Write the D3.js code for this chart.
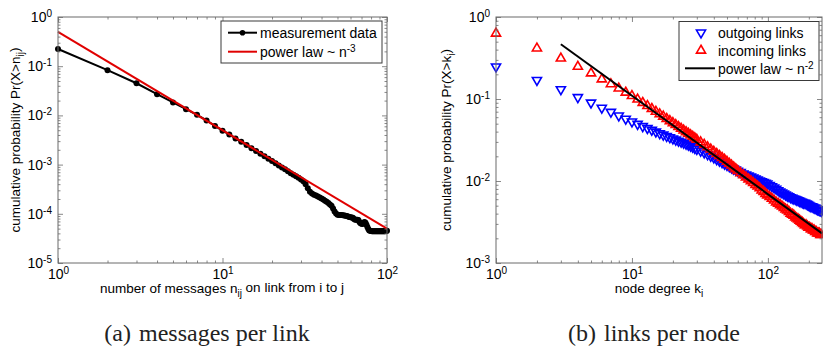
<!DOCTYPE html>
<html>
<head>
<meta charset="utf-8">
<script src="https://cdn.jsdelivr.net/npm/d3@7"></script>
<style>
  body { margin: 0; background: #fff; }
  svg { display: block; }
</style>
</head>
<body>
<svg id="chart" width="823" height="349"></svg>
<script>
// ---------- (a) messages per link ----------
// cumulative probability Pr(X > n_ij) for n = 1..100
const msgN = d3.range(1, 101);
const msgP = [
  0.224, 0.083, 0.045, 0.027, 0.0183, 0.0134, 0.0103, 0.0079, 0.0061, 0.0049,
  0.0041, 0.0034, 0.0029, 0.0025, 0.00215, 0.0019, 0.00166, 0.00147, 0.00131, 0.00118,
  0.00106, 0.00096, 0.00087, 0.00080, 0.00073, 0.00067, 0.00062, 0.00058, 0.00054, 0.00050,
  0.00046, 0.00040, 0.00033, 0.00028, 0.00026, 0.000245, 0.000235, 0.000225, 0.000215, 0.000205,
  0.000195, 0.000185, 0.000175, 0.000165, 0.000155, 0.000145, 0.000128, 0.000112, 0.000101, 0.000096,
  0.000095, 0.000095, 0.000094, 0.000093, 0.000092, 0.000091, 0.000090, 0.000088, 0.000086, 0.000085,
  0.000084, 0.000083, 0.000078, 0.000076, 0.000076, 0.000076, 0.000075, 0.000068, 0.000064, 0.000063,
  0.000062, 0.000066, 0.000068, 0.000066, 0.000060, 0.000054, 0.000049, 0.000046, 0.000045, 0.0000445,
  0.000044, 0.000044, 0.000044, 0.000044, 0.000044, 0.000044, 0.000044, 0.000044, 0.000044, 0.000044,
  0.000044, 0.000044, 0.000044, 0.000044, 0.000044, 0.000044, 0.000044, 0.0000445, 0.0000445, 0.000045
];
// fitted power law, end points (n, Pr)
const msgLawN = [1, 100];
const msgLawP = [0.5, 0.00005];

// ---------- (b) links per node ----------
const degK = [
  1, 2, 3, 4, 5, 6, 7, 8, 9, 10, 11, 12, 13, 14, 15, 16, 17, 18, 19, 20,
  21, 22, 23, 24, 25, 26, 27, 28, 29, 30,
  32, 34, 36, 38, 40, 42, 44, 46, 48, 50, 52, 54, 56, 58, 60,
  63, 66, 69, 72, 75, 78, 81, 84, 87, 90, 93, 96, 99,
  103, 107, 111, 115, 119, 123, 127, 131, 135, 139, 143, 147, 151, 155, 159, 163, 167,
  171, 175, 179, 183, 187, 191, 195, 199, 203, 207, 211, 215, 219, 223, 227, 231, 235,
  239, 243, 247
];
const outgoingP = [
  0.248, 0.170, 0.131, 0.105, 0.090, 0.078, 0.0695, 0.0627, 0.0572, 0.0530,
  0.0495, 0.0465, 0.0440, 0.0419, 0.0399, 0.0381, 0.0366, 0.0352, 0.0340, 0.0329,
  0.0318, 0.0308, 0.0300, 0.0292, 0.0284, 0.0276, 0.0268, 0.0260, 0.0252, 0.0245,
  0.0233, 0.0222, 0.0211, 0.0202, 0.0193, 0.0184, 0.0176, 0.0169, 0.0162, 0.0156,
  0.0151, 0.0146, 0.0141, 0.0137, 0.0133,
  0.0128, 0.0123, 0.0119, 0.0116, 0.0113, 0.0110, 0.0107, 0.0104, 0.0101, 0.0099,
  0.0097, 0.0095, 0.0093,
  0.0089, 0.0086, 0.0083, 0.0080, 0.0077, 0.0074, 0.0072, 0.0070, 0.0068, 0.0066,
  0.0065, 0.0063, 0.0062, 0.0061, 0.0060, 0.0059, 0.0058, 0.0057, 0.0056, 0.0055,
  0.0054, 0.0054, 0.0053, 0.0052, 0.0051, 0.0050, 0.0049, 0.0049, 0.0048, 0.0047,
  0.0047, 0.0046, 0.0045, 0.0045, 0.0044, 0.0044, 0.0043
];
const incomingP = [
  0.63, 0.415, 0.313, 0.248, 0.206, 0.174, 0.152, 0.135, 0.120, 0.109,
  0.0990, 0.0900, 0.0825, 0.0760, 0.0703, 0.0655, 0.0612, 0.0574, 0.0540, 0.0510,
  0.0483, 0.0458, 0.0436, 0.0415, 0.0396, 0.0378, 0.0362, 0.0347, 0.0333, 0.0320,
  0.0297, 0.0277, 0.0259, 0.0243, 0.0228, 0.0215, 0.0203, 0.0192, 0.0182, 0.0172,
  0.0163, 0.0155, 0.0147, 0.0140, 0.0133,
  0.0125, 0.0118, 0.0111, 0.0105, 0.0100, 0.0095, 0.0090, 0.0086, 0.0082, 0.0077,
  0.0074, 0.0070, 0.0067,
  0.0064, 0.0061, 0.0058, 0.0055, 0.0053, 0.0051, 0.0049, 0.0047, 0.0045, 0.0044,
  0.0042, 0.0040, 0.0039, 0.0038, 0.0036, 0.0035, 0.0034, 0.0033, 0.0032, 0.0031,
  0.0030, 0.0029, 0.0029, 0.0028, 0.0027, 0.0027, 0.0026, 0.0026, 0.0025, 0.0025,
  0.0024, 0.0024, 0.0023, 0.0023, 0.0023, 0.0022, 0.0022
];
const degLawK = [3, 250];
const degLawP = [0.465, 0.0023];

// ---------- drawing ----------
const SANS = "'Liberation Sans', Arial, Helvetica, sans-serif";
const SERIF = "'Liberation Serif', 'Times New Roman', serif";
const FRAME = "#6a6a6a";
const TICK_FONT = "14px", SUP_FONT = "10px", TITLE_FONT = "13.5px", SUB_FONT = "10px";
const svg = d3.select("#chart");

function majorTicks(lo, hi) {
  const out = [];
  for (let e = Math.ceil(Math.log10(lo) - 1e-9); Math.pow(10, e) <= hi * 1.0001; e++) out.push(Math.pow(10, e));
  return out;
}
function minorTicks(lo, hi) {
  const out = [];
  for (let e = Math.floor(Math.log10(lo)); e <= Math.ceil(Math.log10(hi)); e++)
    for (let m = 2; m <= 9; m++) {
      const v = m * Math.pow(10, e);
      if (v > lo * 1.0001 && v < hi * 0.9999) out.push(v);
    }
  return out;
}
function powerLabel(sel) {
  sel.text(null);
  sel.append("tspan").text("10");
  sel.append("tspan").attr("dy", "-0.5em").attr("font-size", SUP_FONT)
    .text(d => String(Math.round(Math.log10(d))));
}

function drawFrame(g, x, y) {
  const [x0, x1] = x.range(), [y1, y0] = y.range();
  const xd = x.domain(), yd = y.domain();
  const minX = minorTicks(xd[0], xd[1]), minY = minorTicks(yd[0], yd[1]);
  const majX = majorTicks(xd[0], xd[1]), majY = majorTicks(yd[0], yd[1]);

  const sides = [
    ["bottom", 0, y1, true],
    ["top", 0, y0, false],
    ["left", x0, 0, true],
    ["right", x1, 0, false]
  ];
  const make = side => side === "bottom" ? d3.axisBottom(x) : side === "top" ? d3.axisTop(x)
                     : side === "left" ? d3.axisLeft(y) : d3.axisRight(y);
  sides.forEach(([side, tx, ty, labelled]) => {
    const horiz = side === "bottom" || side === "top";
    const gm = g.append("g").attr("transform", `translate(${tx},${ty})`)
      .call(make(side).tickValues(horiz ? minX : minY).tickSizeInner(-2.5).tickSizeOuter(0).tickFormat(""));
    gm.select(".domain").remove();
    const gM = g.append("g").attr("transform", `translate(${tx},${ty})`)
      .call(make(side).tickValues(horiz ? majX : majY).tickSizeInner(-5).tickSizeOuter(0).tickPadding(horiz ? 3 : 6));
    gM.select(".domain").remove();
    if (labelled) {
      gM.selectAll(".tick text").attr("font-family", SANS).attr("font-size", TICK_FONT).attr("fill", "#000")
        .call(powerLabel);
      if (horiz) gM.selectAll(".tick text").attr("dy", "0.95em");
    } else {
      gM.selectAll(".tick text").remove();
    }
    [gm, gM].forEach(s => s.selectAll(".tick line").attr("stroke", FRAME).attr("stroke-width", 0.8));
  });

  g.append("rect").attr("x", x0).attr("y", y0).attr("width", x1 - x0).attr("height", y1 - y0)
    .attr("fill", "none").attr("stroke", FRAME).attr("stroke-width", 1);
}

function legendBox(g, x, y, w, h) {
  g.append("rect").attr("x", x).attr("y", y).attr("width", w).attr("height", h)
    .attr("fill", "#fff").attr("stroke", "#3a3a3a").attr("stroke-width", 1);
}

// ----- panel (a) -----
const xA = d3.scaleLog().domain([1, 100]).range([58, 387]);
const yA = d3.scaleLog().domain([1e-5, 1]).range([263, 17]);
const gA = svg.append("g");

const clipA = svg.append("clipPath").attr("id", "clipA");
clipA.append("rect").attr("x", 55).attr("y", 14).attr("width", 335).attr("height", 252);

const pA = gA.append("g").attr("clip-path", "url(#clipA)");
const msgData = msgN.map((n, i) => [n, msgP[i]]);
pA.append("path").datum(msgData)
  .attr("d", d3.line().x(d => xA(d[0])).y(d => yA(d[1])))
  .attr("fill", "none").attr("stroke", "#000").attr("stroke-width", 2);
pA.selectAll("circle.m").data(msgData).join("circle").attr("class", "m")
  .attr("cx", d => xA(d[0])).attr("cy", d => yA(d[1])).attr("r", 3).attr("fill", "#000");
pA.append("path").datum(msgLawN.map((n, i) => [n, msgLawP[i]]))
  .attr("d", d3.line().x(d => xA(d[0])).y(d => yA(d[1])))
  .attr("fill", "none").attr("stroke", "#e00000").attr("stroke-width", 2);

drawFrame(gA, xA, yA);

// legend (a)
legendBox(gA, 221, 21, 161, 42);
gA.append("line").attr("x1", 228).attr("x2", 257).attr("y1", 32.7).attr("y2", 32.7)
  .attr("stroke", "#000").attr("stroke-width", 2);
gA.append("circle").attr("cx", 242.5).attr("cy", 32.7).attr("r", 2.8).attr("fill", "#000");
gA.append("text").attr("x", 260).attr("y", 37.5).attr("font-family", SANS).attr("font-size", "14px")
  .text("measurement data");
gA.append("line").attr("x1", 228).attr("x2", 257).attr("y1", 51.7).attr("y2", 51.7)
  .attr("stroke", "#e00000").attr("stroke-width", 2);
const lgA = gA.append("text").attr("x", 260).attr("y", 56.5).attr("font-family", SANS).attr("font-size", "14px");
lgA.append("tspan").text("power law ~ n");
lgA.append("tspan").attr("dy", "-0.5em").attr("font-size", "10px").text("-3");

// axis titles (a)
const xtA = gA.append("text").attr("x", 222).attr("y", 293).attr("text-anchor", "middle")
  .attr("font-family", SANS).attr("font-size", TITLE_FONT);
xtA.append("tspan").text("number of messages n");
xtA.append("tspan").attr("dy", "0.35em").attr("font-size", SUB_FONT).text("ij");
xtA.append("tspan").attr("dy", "-0.35em").text(" on link from i to j");

const ytA = gA.append("text").attr("transform", "translate(20,140) rotate(-90)").attr("text-anchor", "middle")
  .attr("font-family", SANS).attr("font-size", TITLE_FONT);
ytA.append("tspan").text("cumulative probability Pr(X>n");
ytA.append("tspan").attr("dy", "0.35em").attr("font-size", SUB_FONT).text("ij");
ytA.append("tspan").attr("dy", "-0.35em").text(")");

// ----- panel (b) -----
const xB = d3.scaleLog().domain([1, 250]).range([496, 822]);
const yB = d3.scaleLog().domain([1e-3, 1]).range([263, 17]);
const gB = svg.append("g");

const pB = gB.append("g");
const tri = d3.symbol().type(d3.symbolTriangle).size(36);
pB.selectAll("path.out").data(degK.map((k, i) => [k, outgoingP[i]])).join("path").attr("class", "out")
  .attr("d", tri).attr("transform", d => `translate(${xB(d[0])},${yB(d[1])}) rotate(180)`)
  .attr("fill", "none").attr("stroke", "#0000ff").attr("stroke-width", 1.6);
pB.selectAll("path.inc").data(degK.map((k, i) => [k, incomingP[i]])).join("path").attr("class", "inc")
  .attr("d", tri).attr("transform", d => `translate(${xB(d[0])},${yB(d[1])})`)
  .attr("fill", "none").attr("stroke", "#ff0000").attr("stroke-width", 1.6);
pB.append("path").datum(degLawK.map((k, i) => [k, degLawP[i]]))
  .attr("d", d3.line().x(d => xB(d[0])).y(d => yB(d[1])))
  .attr("fill", "none").attr("stroke", "#000").attr("stroke-width", 2);

drawFrame(gB, xB, yB);

// legend (b)
legendBox(gB, 679, 21.5, 140, 59);
gB.append("path").attr("d", tri).attr("transform", "translate(701,32.7) rotate(180)")
  .attr("fill", "none").attr("stroke", "#0000ff").attr("stroke-width", 1.6);
gB.append("text").attr("x", 718).attr("y", 37.5).attr("font-family", SANS).attr("font-size", "14px")
  .text("outgoing links");
gB.append("path").attr("d", tri).attr("transform", "translate(701,50.5)")
  .attr("fill", "none").attr("stroke", "#ff0000").attr("stroke-width", 1.6);
gB.append("text").attr("x", 718).attr("y", 55.5).attr("font-family", SANS).attr("font-size", "14px")
  .text("incoming links");
gB.append("line").attr("x1", 685).attr("x2", 715).attr("y1", 68.3).attr("y2", 68.3)
  .attr("stroke", "#000").attr("stroke-width", 2);
const lgB = gB.append("text").attr("x", 718).attr("y", 73.5).attr("font-family", SANS).attr("font-size", "14px");
lgB.append("tspan").text("power law ~ n");
lgB.append("tspan").attr("dy", "-0.5em").attr("font-size", "10px").text("-2");

// axis titles (b)
const xtB = gB.append("text").attr("x", 659).attr("y", 293).attr("text-anchor", "middle")
  .attr("font-family", SANS).attr("font-size", TITLE_FONT);
xtB.append("tspan").text("node degree k");
xtB.append("tspan").attr("dy", "0.35em").attr("font-size", SUB_FONT).text("i");

const ytB = gB.append("text").attr("transform", "translate(451,140) rotate(-90)").attr("text-anchor", "middle")
  .attr("font-family", SANS).attr("font-size", TITLE_FONT);
ytB.append("tspan").text("cumulative probability Pr(X>k");
ytB.append("tspan").attr("dy", "0.35em").attr("font-size", SUB_FONT).text("i");
ytB.append("tspan").attr("dy", "-0.35em").text(")");

// sub-figure captions
[["(a)", "messages per link", 207], ["(b)", "links per node", 654]].forEach(([tag, txt, cx]) => {
  const t = svg.append("text").attr("x", cx).attr("y", 341).attr("text-anchor", "middle")
    .attr("font-family", SERIF).attr("font-size", "24px").attr("fill", "#222");
  t.append("tspan").text(tag);
  t.append("tspan").attr("dx", "8").text(txt);
});
</script>
</body>
</html>
